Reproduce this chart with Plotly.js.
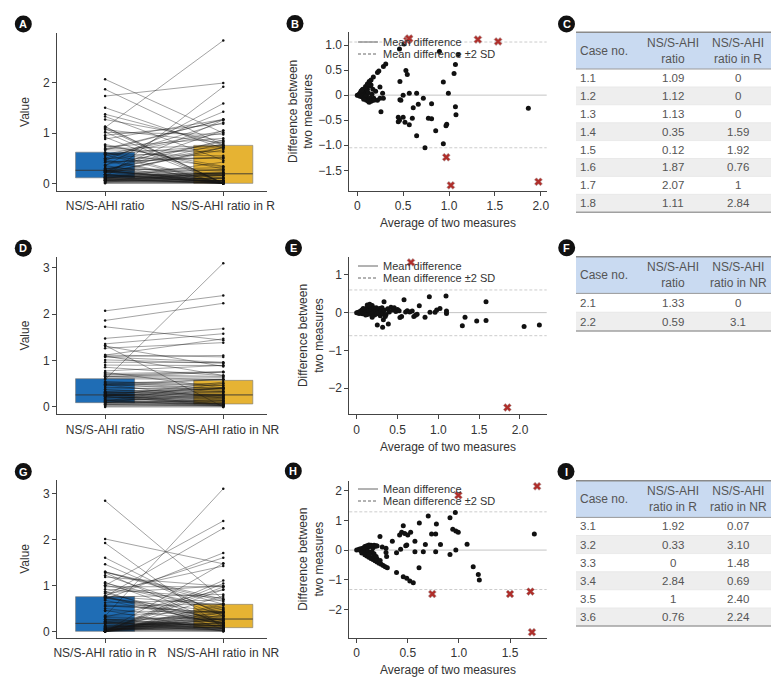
<!DOCTYPE html>
<html><head><meta charset="utf-8">
<script src="https://cdn.plot.ly/plotly-3.0.1.min.js"></script>
<style>html,body{margin:0;padding:0;background:#fff}#chart{width:780px;height:686px}</style>
</head><body><div id="chart"></div>
<script>
// ---------------- DATA ----------------
const catsA = ['NS/S-AHI ratio', 'NS/S-AHI ratio in R'];
const catsD = ['NS/S-AHI ratio', 'NS/S-AHI ratio in NR'];
const catsG = ['NS/S-AHI ratio in R', 'NS/S-AHI ratio in NR'];

const boxQ1A = [0.11, 0.00], boxMedA = [0.26, 0.19], boxQ3A = [0.62, 0.755];
const boxQ1D = [0.093, 0.065], boxMedD = [0.26, 0.26], boxQ3D = [0.61, 0.574];
const boxQ1G = [0.00, 0.08], boxMedG = [0.174, 0.268], boxQ3G = [0.754, 0.587];

const valueTicksA = [0, 1, 2];
const valueTicksD = [0, 1, 2, 3];
const valueTicksG = [0, 1, 2, 3];

// Bland-Altman points (average, difference): ratio vs ratio in R
const avgB = [
  0.00, 0.01, 0.02, 0.03, 0.03, 0.04, 0.05, 0.05, 0.06, 0.07,
  0.08, 0.08, 0.09, 0.10, 0.10, 0.11, 0.12, 0.12, 0.13, 0.14,
  0.14, 0.15, 0.16, 0.17, 0.18, 0.20, 0.22, 0.10, 0.13, 0.16,
  0.04, 0.06, 0.09, 0.11, 0.13, 0.15, 0.175, 0.22, 0.235, 0.285,
  0.31, 0.46, 0.51, 0.895, 1.10, 0.53, 0.545, 0.465, 0.938, 1.07,
  1.055, 0.567, 0.647, 0.50, 0.993, 0.247, 0.276, 0.247, 0.284, 0.465,
  0.475, 0.72, 0.665, 0.61, 0.81, 1.07, 1.076, 0.258, 0.447, 0.447,
  0.50, 0.52, 0.567, 0.60, 0.775, 0.81, 0.967, 0.975, 0.647, 0.855,
  0.938, 0.738, 1.865, 0.46, 0.12, 0.15, 0.18, 0.07, 0.09, 0.05];
const diffB = [
  0.00, 0.00, 0.02, 0.04, -0.02, 0.05, 0.05, -0.03, 0.00, 0.03,
  0.07, -0.05, 0.10, 0.00, -0.10, 0.12, 0.05, -0.08, -0.14, 0.18,
  -0.05, 0.20, -0.10, 0.12, -0.06, 0.08, -0.10, 0.15, 0.25, 0.02,
  0.08, 0.12, 0.17, 0.22, 0.27, 0.30, 0.36, 0.45, 0.48, 0.57,
  0.62, 0.92, 1.02, 0.87, 0.81, 0.49, 0.41, 0.27, 0.26, 0.61,
  0.43, 0.04, 0.04, 0.00, 0.04, 0.16, 0.04, -0.06, -0.06, -0.09,
  -0.10, -0.06, -0.18, -0.25, -0.17, -0.23, -0.39, -0.33, -0.44, -0.53,
  -0.44, -0.54, -0.59, -0.46, -0.46, -0.47, -0.61, -0.58, -0.81, -0.71,
  -0.97, -1.05, -0.26, -0.50, -0.12, -0.12, -0.10, -0.08, 0.13, 0.10];

// panel E: ratio vs ratio in NR
const avgE = [
  0.00, 0.02, 0.03, 0.04, 0.05, 0.06, 0.07, 0.08, 0.09, 0.10,
  0.11, 0.12, 0.13, 0.14, 0.15, 0.16, 0.17, 0.18, 0.19, 0.20,
  0.21, 0.22, 0.23, 0.24, 0.25, 0.26, 0.27, 0.28, 0.29, 0.30,
  0.31, 0.32, 0.34, 0.36, 0.38, 0.40, 0.42, 0.44, 0.46, 0.48,
  0.50, 0.52, 0.55, 0.60, 0.62, 0.65, 0.68, 0.70, 0.72, 0.74,
  0.253, 0.318, 0.335, 0.327, 0.388, 0.58, 0.53, 0.767, 0.837, 0.89,
  0.898, 0.96, 0.98, 1.02, 1.094, 1.10, 1.10, 1.294, 1.327, 1.47,
  1.584, 1.584, 2.05, 2.237, 0.13, 0.16, 0.19, 0.08, 0.11, 0.35];
const diffE = [
  0.00, 0.01, -0.02, 0.03, 0.00, 0.06, -0.03, 0.02, 0.08, -0.02,
  0.10, 0.03, -0.05, 0.15, 0.05, 0.18, -0.04, 0.08, 0.19, 0.00,
  0.12, -0.06, 0.05, 0.13, -0.03, 0.07, 0.00, 0.11, -0.08, 0.04,
  0.13, -0.02, 0.06, -0.05, 0.10, 0.02, 0.14, 0.07, 0.13, 0.03,
  0.08, 0.05, -0.10, 0.02, 0.05, 0.02, 0.04, -0.10, -0.07, -0.04,
  -0.33, -0.39, 0.29, -0.19, -0.30, 0.34, -0.13, 0.18, -0.12, 0.42,
  0.01, 0.01, 0.07, 0.11, 0.44, 0.04, -0.02, -0.35, -0.12, -0.22,
  0.29, -0.21, -0.37, -0.33, 0.20, 0.22, -0.12, 0.11, -0.06, -0.10];

// panel H: ratio in R vs ratio in NR
const avgH = [
  0.00, 0.02, 0.03, 0.04, 0.05, 0.06, 0.07, 0.08, 0.09, 0.10,
  0.11, 0.12, 0.13, 0.14, 0.15, 0.16, 0.17, 0.18, 0.19, 0.20,
  0.07, 0.09, 0.11, 0.13, 0.15, 0.17, 0.05, 0.08, 0.10, 0.12,
  0.14, 0.16, 0.18, 0.20, 0.22, 0.24, 0.26, 0.28, 0.30, 0.15,
  0.17, 0.20, 0.12, 0.19, 0.23, 0.228, 0.349, 0.39, 0.39, 0.287,
  0.287, 0.293, 0.456, 0.42, 0.44, 0.47, 0.50, 0.528, 0.48, 0.49,
  0.43, 0.456, 0.49, 0.52, 0.554, 0.613, 0.57, 0.57, 0.61, 0.652,
  0.672, 0.70, 0.733, 0.773, 0.78, 0.773, 0.82, 0.913, 0.913, 0.94,
  0.965, 0.97, 0.994, 0.97, 1.08, 1.14, 1.19, 1.20, 1.738, 0.25];
const diffH = [
  0.00, 0.02, 0.04, -0.02, 0.05, 0.00, 0.08, 0.12, 0.05, 0.15,
  0.10, 0.17, 0.12, 0.16, 0.14, 0.08, 0.16, 0.13, 0.15, 0.14,
  -0.05, -0.08, -0.04, -0.10, -0.05, -0.12, -0.10, -0.16, -0.20, -0.24,
  -0.28, -0.32, -0.36, -0.40, -0.44, -0.48, -0.52, -0.56, -0.60, -0.25,
  -0.20, -0.30, -0.15, -0.22, -0.35, 0.46, 0.30, -0.09, -0.76, 0.06,
  -0.08, -0.22, 0.82, 0.51, 0.60, 0.56, 0.51, 0.60, 0.15, 0.17,
  0.03, -0.90, -0.95, -1.04, -1.10, 0.91, 0.30, -0.06, -0.60, -0.06,
  0.19, 1.15, 0.54, 0.54, 0.88, -0.06, 0.19, 1.09, -0.15, 0.70,
  1.27, 0.64, 0.60, 0.00, 0.20, -0.56, -0.82, -1.01, 0.54, 0.10];

// mean difference and mean difference +/- 2 SD [lower, mean, upper]
const limitsB = [-1.05, 0.00, 1.06];
const limitsE = [-0.61, 0.00, 0.60];
const limitsH = [-1.33, 0.00, 1.29];

// tables
const headerC = ['Case no.', 'NS/S-AHI<br>ratio', 'NS/S-AHI<br>ratio in R'];
const caseC = ['1.1', '1.2', '1.3', '1.4', '1.5', '1.6', '1.7', '1.8'];
const ratioC = ['1.09', '1.12', '1.13', '0.35', '0.12', '1.87', '2.07', '1.11'];
const ratioRC = ['0', '0', '0', '1.59', '1.92', '0.76', '1', '2.84'];

const headerF = ['Case no.', 'NS/S-AHI<br>ratio', 'NS/S-AHI<br>ratio in NR'];
const caseF = ['2.1', '2.2'];
const ratioF = ['1.33', '0.59'];
const ratioNRF = ['0', '3.1'];

const headerI = ['Case no.', 'NS/S-AHI<br>ratio in R', 'NS/S-AHI<br>ratio in NR'];
const caseI = ['3.1', '3.2', '3.3', '3.4', '3.5', '3.6'];
const ratioRI = ['1.92', '0.33', '0', '2.84', '1', '0.76'];
const ratioNRI = ['0.07', '3.10', '1.48', '0.69', '2.40', '2.24'];

const baTicksX = [0, 0.5, 1, 1.5, 2];
const baTickTextX = ['0', '0.5', '1.0', '1.5', '2.0'];
const baTicksXH = [0, 0.5, 1, 1.5];
const baTickTextXH = ['0', '0.5', '1.0', '1.5'];
const baTicksYB = [-1.5, -1, -0.5, 0, 0.5, 1];
const baTickTextYB = ['\u22121.5', '\u22121.0', '\u22120.5', '0', '0.5', '1.0'];
const baTicksYE = [-2, -1, 0, 1];
const baTickTextYE = ['\u22122', '\u22121', '0', '1'];
const baTicksYH = [-2, -1, 0, 1, 2];
const baTickTextYH = ['\u22122', '\u22121', '0', '1', '2'];

const legendLabels = ['Mean difference', 'Mean difference \u00b12 SD'];
const panelLetters = ['A', 'B', 'C', 'D', 'E', 'F', 'G', 'H', 'I'];

// ---------------- BUILD ----------------
const W = 780, H = 686;
const FONT = '"Liberation Sans", Arial, Helvetica, sans-serif';
const TXT = '#333';
const BLUE = '#1f6db5', YELLOW = '#e6b333';
const fx = p => p / W;
const fy = p => 1 - p / H;

function toPairs(avg, diff) {
  const a = [], b = [];
  for (let i = 0; i < avg.length; i++) {
    a.push(Math.max(0, avg[i] + diff[i] / 2));
    b.push(Math.max(0, avg[i] - diff[i] / 2));
  }
  return [a, b];
}
const num = arr => arr.map(parseFloat);

const data = [];
const shapes = [];
const annotations = [];

function boxPanel(xa, ya, q1, med, q3, first, second) {
  const half = 0.25;
  data.push({type: 'bar', x: [0, 1], y: q3.map((v, i) => v - q1[i]), base: q1, width: 2 * half,
    marker: {color: [BLUE, YELLOW], line: {color: '#777', width: 0.6}},
    xaxis: xa, yaxis: ya, showlegend: false, hoverinfo: 'skip'});
  const mx = [], my = [];
  med.forEach((m, i) => { mx.push(i - half, i + half, null); my.push(m, m, null); });
  data.push({type: 'scatter', mode: 'lines', x: mx, y: my, xaxis: xa, yaxis: ya,
    line: {color: '#333', width: 0.9}, showlegend: false, hoverinfo: 'skip'});
  const lx = [], ly = [];
  for (let i = 0; i < first.length; i++) { lx.push(0, 1, null); ly.push(first[i], second[i], null); }
  data.push({type: 'scatter', mode: 'lines+markers', x: lx, y: ly, xaxis: xa, yaxis: ya,
    line: {color: 'rgba(20,20,20,0.66)', width: 0.6}, marker: {size: 2.5, color: '#111'},
    showlegend: false, hoverinfo: 'skip', cliponaxis: false});
}

function baPanel(xa, ya, avg, diff, outA, outB, limits, legendY) {
  data.push({type: 'scatter', mode: 'markers', x: avg, y: diff, xaxis: xa, yaxis: ya,
    marker: {size: 5, color: '#111'}, showlegend: false, hoverinfo: 'skip', cliponaxis: false});
  const oa = [], od = [];
  for (let i = 0; i < outA.length; i++) { oa.push((outA[i] + outB[i]) / 2); od.push(outA[i] - outB[i]); }
  data.push({type: 'scatter', mode: 'markers', x: oa, y: od, xaxis: xa, yaxis: ya,
    marker: {size: 7, symbol: 'x', color: '#b02e2a', line: {color: '#b0a0a0', width: 0.6}},
    showlegend: false, hoverinfo: 'skip', cliponaxis: false});
  const xr = xa + ' domain';
  shapes.push({type: 'line', xref: xr, yref: ya, x0: 0, x1: 1, y0: limits[1], y1: limits[1],
    line: {color: '#c4c4c4', width: 1}, layer: 'below'});
  [limits[0], limits[2]].forEach(v => shapes.push({type: 'line', xref: xr, yref: ya, x0: 0, x1: 1, y0: v, y1: v,
    line: {color: '#cccccc', width: 1, dash: '3px,2px'}, layer: 'below'}));
  const dashes = ['solid', '3px,2px'];
  legendY.forEach((py, i) => {
    shapes.push({type: 'line', xref: 'paper', yref: 'paper', x0: fx(358), x1: fx(378), y0: fy(py), y1: fy(py),
      line: {color: '#666', width: 1, dash: dashes[i]}});
    annotations.push({xref: 'paper', yref: 'paper', x: fx(382), y: fy(py), xanchor: 'left', yanchor: 'middle',
      text: legendLabels[i], showarrow: false, borderpad: 0, font: {family: FONT, size: 11, color: TXT}});
  });
}

const pA = toPairs(avgB, diffB);
boxPanel('x', 'y', boxQ1A, boxMedA, boxQ3A, pA[0].concat(num(ratioC)), pA[1].concat(num(ratioRC)));
baPanel('x2', 'y2', avgB, diffB, num(ratioC), num(ratioRC), limitsB, [42, 54]);
const pD = toPairs(avgE, diffE);
boxPanel('x3', 'y3', boxQ1D, boxMedD, boxQ3D, pD[0].concat(num(ratioF)), pD[1].concat(num(ratioNRF)));
baPanel('x4', 'y4', avgE, diffE, num(ratioF), num(ratioNRF), limitsE, [266, 278]);
const pG = toPairs(avgH, diffH);
boxPanel('x5', 'y5', boxQ1G, boxMedG, boxQ3G, pG[0].concat(num(ratioRI)), pG[1].concat(num(ratioNRI)));
baPanel('x6', 'y6', avgH, diffH, num(ratioRI), num(ratioNRI), limitsH, [489, 501]);

// tables drawn with shapes + text
function table(header, cols, topPx, rowH) {
  const left = 576, right = 771, hdrH = 36.7;
  const colX = [578.5, 673.3, 738.3], anchors = ['left', 'center', 'center'];
  const n = cols[0].length;
  const bottom = topPx + hdrH + rowH * n;
  shapes.push({type: 'rect', xref: 'paper', yref: 'paper', x0: fx(left), x1: fx(right), y0: fy(topPx + hdrH), y1: fy(topPx),
    fillcolor: '#c9daf1', line: {width: 0}, layer: 'below'});
  for (let i = 0; i < n; i++) {
    const y0 = topPx + hdrH + i * rowH;
    if (i % 2 === 1) shapes.push({type: 'rect', xref: 'paper', yref: 'paper', x0: fx(left), x1: fx(right), y0: fy(y0 + rowH), y1: fy(y0),
      fillcolor: '#eeeeee', line: {width: 0}, layer: 'below'});
    if (i > 0) shapes.push({type: 'line', xref: 'paper', yref: 'paper', x0: fx(left), x1: fx(right), y0: fy(y0), y1: fy(y0),
      line: {color: '#e0e0e0', width: 0.6}, layer: 'below'});
    cols.forEach((col, c) => annotations.push({xref: 'paper', yref: 'paper', x: fx(colX[c]), y: fy(y0 + rowH / 2),
      xanchor: anchors[c], yanchor: 'middle', text: col[i], showarrow: false, borderpad: 0,
      font: {family: FONT, size: 11.5, color: '#555'}}));
  }
  header.forEach((h, c) => annotations.push({xref: 'paper', yref: 'paper', x: fx(colX[c]), y: fy(topPx + hdrH / 2),
    xanchor: anchors[c], yanchor: 'middle', align: 'center', text: h, showarrow: false, borderpad: 0,
    font: {family: FONT, size: 12, color: '#555'}}));
  shapes.push({type: 'line', xref: 'paper', yref: 'paper', x0: fx(left), x1: fx(right), y0: fy(topPx + hdrH), y1: fy(topPx + hdrH),
    line: {color: '#9a9a9a', width: 1}});
  shapes.push({type: 'line', xref: 'paper', yref: 'paper', x0: fx(left), x1: fx(right), y0: fy(topPx), y1: fy(topPx),
    line: {color: '#8a8a8a', width: 1.5}});
  shapes.push({type: 'line', xref: 'paper', yref: 'paper', x0: fx(left), x1: fx(right), y0: fy(bottom), y1: fy(bottom),
    line: {color: '#a0a0a0', width: 1.5}});
}
table(headerC, [caseC, ratioC, ratioRC], 32.3, 17.9);
table(headerF, [caseF, ratioF, ratioNRF], 256.7, 18.8);
table(headerI, [caseI, ratioRI, ratioNRI], 480.7, 18.1);

// panel letters
const letterPos = [[23.3, 24], [295, 23.5], [566.5, 24], [23.3, 248.3], [293.5, 247.7], [566.7, 247.7],
  [23.3, 471.5], [293.3, 471], [566, 471.5]];
panelLetters.forEach((L, i) => {
  const [cx, cy] = letterPos[i];
  shapes.push({type: 'circle', xref: 'paper', yref: 'paper', x0: fx(cx - 8.5), x1: fx(cx + 8.5), y0: fy(cy + 8.5), y1: fy(cy - 8.5),
    fillcolor: '#111', line: {width: 0}});
  annotations.push({xref: 'paper', yref: 'paper', x: fx(cx), y: fy(cy), xanchor: 'center', yanchor: 'middle', text: '<b>' + L + '</b>',
    showarrow: false, font: {family: FONT, size: 11, color: '#fff'}});
});

const common = {showline: true, linecolor: '#444', linewidth: 1, ticks: 'outside', ticklen: 4, tickwidth: 1, tickcolor: '#444',
  showgrid: false, zeroline: false, tickfont: {family: FONT, size: 12, color: TXT}, fixedrange: true, automargin: false};
const tfont = {family: FONT, size: 12, color: TXT};
const domX1 = [fx(57), fx(267)], domX2 = [fx(349.3), fx(546.7)];

function catX(dom, anchor, cats) {
  return Object.assign({}, common, {domain: dom, anchor, range: [-0.407, 1.37], tickvals: [0, 1], ticktext: cats});
}
function valY(dom, anchor, range, ticks) {
  return Object.assign({}, common, {domain: dom, anchor, range, tickvals: ticks,
    title: {text: 'Value', font: tfont, standoff: 10}});
}
function baX(dom, anchor, range, tv, tt) {
  return Object.assign({}, common, {domain: dom, anchor, range, tickvals: tv, ticktext: tt,
    title: {text: 'Average of two measures', font: tfont, standoff: 6}});
}
function baY(dom, anchor, range, tv, tt) {
  return Object.assign({}, common, {domain: dom, anchor, range, tickvals: tv, ticktext: tt,
    title: {text: 'Difference between<br>two measures', font: tfont, standoff: 2}});
}

const layout = {
  width: W, height: H, margin: {l: 0, r: 0, t: 0, b: 0}, paper_bgcolor: '#fff', plot_bgcolor: 'rgba(0,0,0,0)',
  showlegend: false, font: {family: FONT, color: TXT, size: 12}, barmode: 'overlay',
  xaxis: catX(domX1, 'y', catsA),
  yaxis: valY([fy(191), fy(33)], 'x', [-0.152, 2.99], valueTicksA),
  xaxis2: baX(domX2, 'y2', [-0.087, 2.065], baTicksX, baTickTextX),
  yaxis2: baY([fy(190.7), fy(32)], 'x2', [-1.907, 1.26], baTicksYB, baTickTextYB),
  xaxis3: catX(domX1, 'y3', catsD),
  yaxis3: valY([fy(414.3), fy(256.7)], 'x3', [-0.158, 3.24], valueTicksD),
  xaxis4: baX(domX2, 'y4', [-0.09, 2.327], baTicksX, baTickTextX),
  yaxis4: baY([fy(414.3), fy(256.7)], 'x4', [-2.69, 1.48], baTicksYE, baTickTextYE),
  xaxis5: catX(domX1, 'y5', catsG),
  yaxis5: valY([fy(637.7), fy(480)], 'x5', [-0.138, 3.29], valueTicksG),
  xaxis6: baX(domX2, 'y6', [-0.072, 1.859], baTicksXH, baTickTextXH),
  yaxis6: baY([fy(637.7), fy(480.7)], 'x6', [-2.955, 2.34], baTicksYH, baTickTextYH),
  shapes, annotations
};

Plotly.newPlot('chart', data, layout, {displayModeBar: false, staticPlot: true});
</script></body></html>
